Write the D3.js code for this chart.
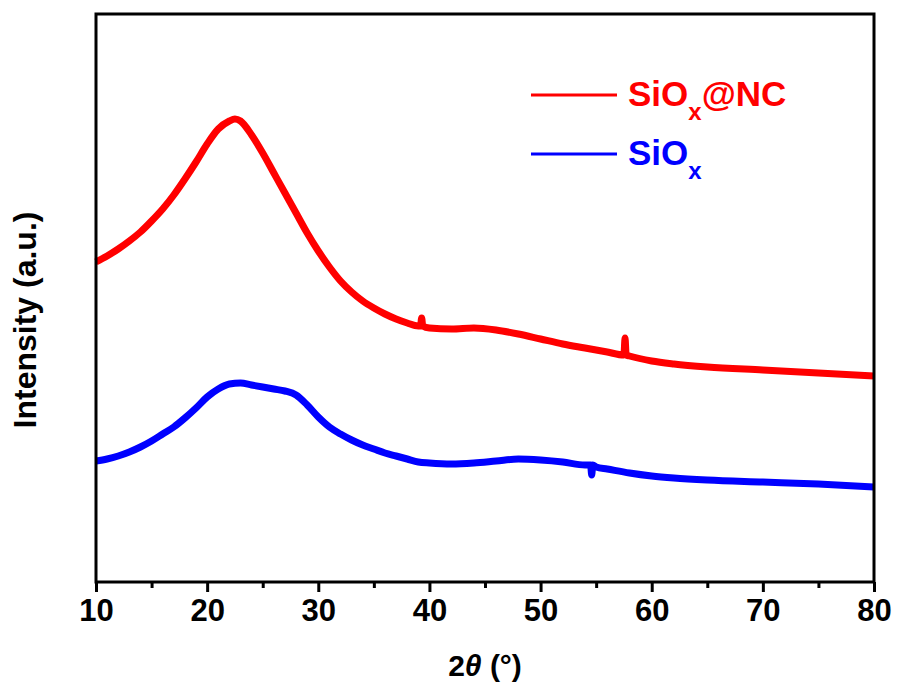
<!DOCTYPE html>
<html>
<head>
<meta charset="utf-8">
<script src="https://cdn.jsdelivr.net/npm/d3@7"></script>
<style>
  body { margin: 0; background: #fff; }
  text { font-family: "Liberation Sans", Arial, sans-serif; font-weight: bold; }
</style>
</head>
<body>
<div id="chart"></div>
<script>
// 2theta positions and intensity (a.u.)
let nc2theta = [10, 11, 12, 13, 14, 15, 16, 17, 18, 19, 20, 21, 22, 22.5, 23, 24, 25, 26, 27, 28, 29, 30,
    31, 32, 33, 34, 35, 36, 37, 38, 39, 39.2, 39.3, 39.4, 40, 42, 44, 46, 48, 50, 52, 54, 56,
    57.5, 57.6, 57.7, 58, 60, 62, 65, 70, 75, 80];
let ncIntensity = [320, 326, 333, 341, 350, 361, 373, 387, 403, 420, 438, 453, 461, 463, 461, 447, 429, 409, 389, 369, 349, 331,
    315, 301, 290, 281, 274, 268, 263, 259, 256, 256, 264, 256, 254, 253, 254, 252, 248, 243, 238, 234, 230,
    227, 244, 227, 226, 221, 218, 215, 212, 209, 206];

let sio2theta = [10, 11, 12, 13, 14, 15, 16, 17, 18, 19, 20, 21, 22, 23, 24, 25, 26, 27, 28, 29, 30,
    31, 32, 33, 34, 35, 36, 37, 38, 39, 40, 42, 44, 46, 48, 50, 52, 54, 54.5, 54.6, 54.7,
    55, 56, 58, 60, 62, 65, 70, 75, 80];
let sioIntensity = [121, 123, 126, 130, 135, 141, 148, 155, 164, 174, 185, 193, 198, 199, 197, 195, 193, 191, 187, 177, 165,
    155, 148, 142, 137, 133, 129, 126, 123, 120, 119, 118, 119, 121, 123, 122, 120, 117, 117, 107, 117,
    115, 113, 109, 106, 104, 102, 100, 98, 95];

let seriesNames = ["SiOx@NC", "SiOx"];
let seriesColors = ["#ff0000", "#0000ff"];
let xTicks = [10, 20, 30, 40, 50, 60, 70, 80];
let xMinorTicks = [15, 25, 35, 45, 55, 65, 75];

let width = 898;
let height = 691;
let margin = { top: 14, left: 96, right: 24, bottom: 109 };
let innerW = width - margin.left - margin.right;
let innerH = height - margin.top - margin.bottom;

let x = d3.scaleLinear().domain([10, 80]).range([0, innerW]);
let y = d3.scaleLinear().domain([0, 568]).range([innerH, 0]);

let svg = d3.select("#chart").append("svg")
    .attr("width", width)
    .attr("height", height);

let group = svg.append("g")
    .attr("transform", "translate(" + margin.left + "," + margin.top + ")");

// the two patterns
let line = d3.line()
    .curve(d3.curveMonotoneX)
    .x(d => x(d[0]))
    .y(d => y(d[1]));

let series = [
    d3.zip(nc2theta, ncIntensity),
    d3.zip(sio2theta, sioIntensity)
];

group.selectAll(".pattern")
    .data(series)
    .enter()
    .append("path")
    .attr("class", "pattern")
    .attr("fill", "none")
    .attr("stroke", (d, i) => seriesColors[i])
    .attr("stroke-width", 7)
    .attr("stroke-linejoin", "round")
    .attr("d", line);

// frame
group.append("rect")
    .attr("width", innerW)
    .attr("height", innerH)
    .attr("fill", "none")
    .attr("stroke", "#000")
    .attr("stroke-width", 3);

// bottom axis, major + minor ticks pointing out
let xAxis = d3.axisBottom(x)
    .tickValues(xTicks)
    .tickSize(10)
    .tickPadding(7)
    .tickFormat(d3.format("d"));

let xg = group.append("g")
    .attr("transform", "translate(0," + innerH + ")")
    .call(xAxis);
xg.select(".domain").remove();
xg.selectAll(".tick line").attr("stroke-width", 3);
xg.selectAll(".tick text")
    .attr("font-size", 31)
    .attr("font-family", "Liberation Sans, Arial, sans-serif")
    .attr("font-weight", "bold")
    .attr("fill", "#000");

let xMinor = group.append("g")
    .attr("transform", "translate(0," + innerH + ")")
    .call(d3.axisBottom(x).tickValues(xMinorTicks).tickSize(6).tickFormat(""));
xMinor.select(".domain").remove();
xMinor.selectAll(".tick line").attr("stroke-width", 3);

// axis titles
let xTitle = svg.append("text")
    .attr("x", margin.left + innerW / 2)
    .attr("y", 676)
    .attr("text-anchor", "middle")
    .attr("font-size", 30);
xTitle.append("tspan").text("2");
xTitle.append("tspan").attr("font-style", "italic").text("θ");
xTitle.append("tspan").text(" (°)");

svg.append("text")
    .attr("transform", "translate(36,320) rotate(-90)")
    .attr("text-anchor", "middle")
    .attr("font-size", 32)
    .text("Intensity (a.u.)");

// legend
let legend = group.selectAll(".legend")
    .data(seriesNames)
    .enter()
    .append("g")
    .attr("class", "legend")
    .attr("transform", (d, i) => "translate(" + (531 - margin.left) + "," + (95 - margin.top + i * 59) + ")");

legend.append("line")
    .attr("x1", 0)
    .attr("x2", 86)
    .attr("stroke", (d, i) => seriesColors[i])
    .attr("stroke-width", 3);

let label = legend.append("text")
    .attr("x", 97)
    .attr("y", 11)
    .attr("font-size", 35)
    .attr("fill", (d, i) => seriesColors[i]);
label.append("tspan").text("SiO");
label.append("tspan").attr("font-size", 24).attr("dy", 14).text("x");
label.filter(d => d === "SiOx@NC").append("tspan").attr("dy", -14).text("@NC");
</script>
</body>
</html>
